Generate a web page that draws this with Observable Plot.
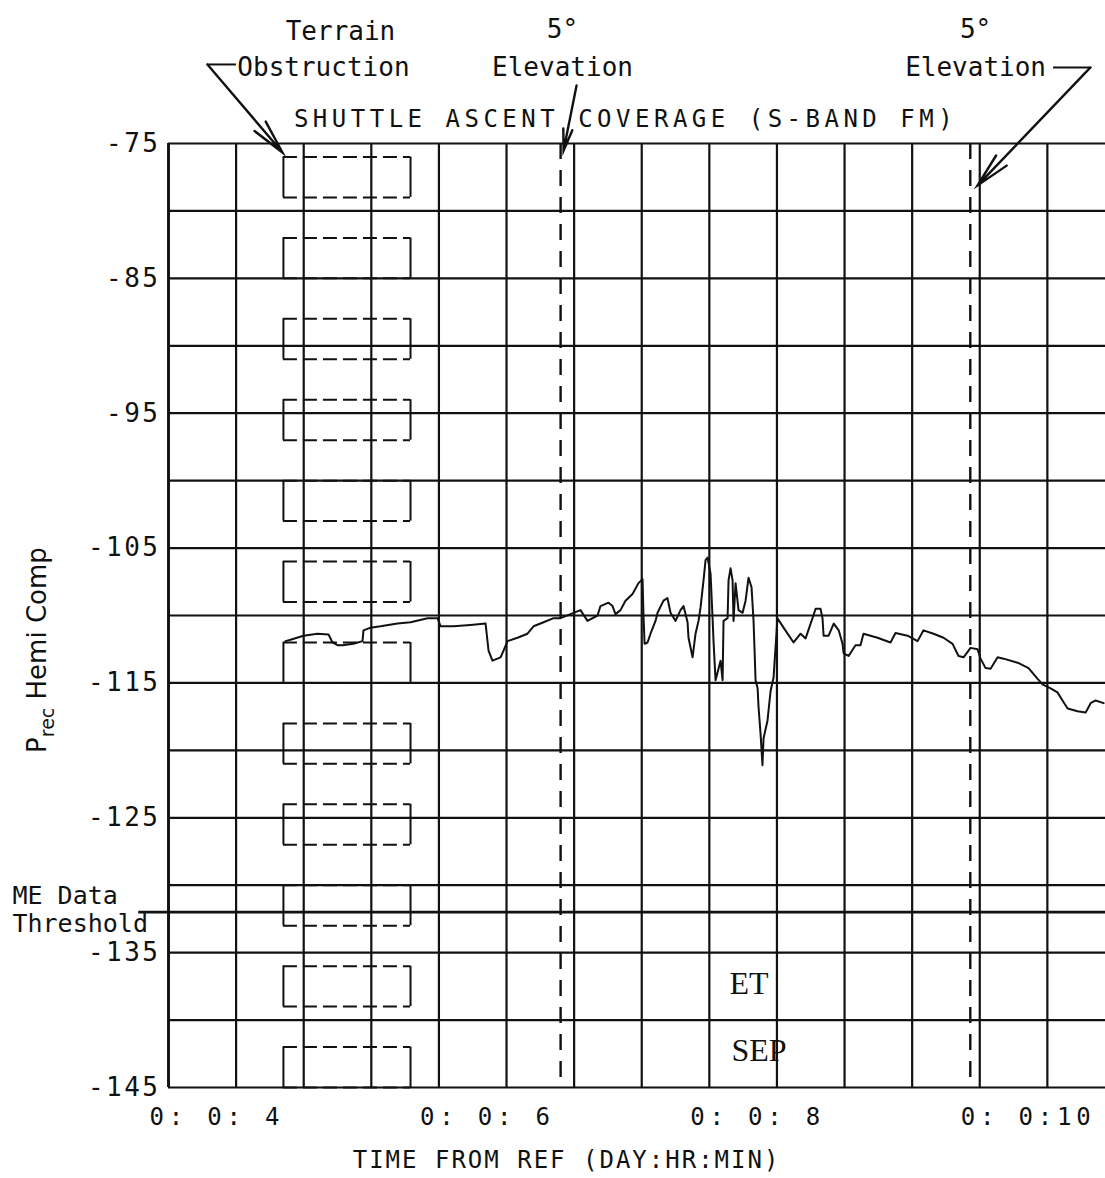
<!DOCTYPE html>
<html>
<head>
<meta charset="utf-8">
<script src="https://cdn.jsdelivr.net/npm/d3@7"></script>
<script src="https://cdn.jsdelivr.net/npm/@observablehq/plot@0.6"></script>
<style>
  html, body { margin: 0; padding: 0; background: #fff; overflow: hidden; }
  #chart svg { display: block; }
</style>
</head>
<body>
<div id="chart"></div>
<script>
// ---- axis ticks & grid ----
const xTicks = [4, 6, 8, 10];
const xTickLabels = ["0: 0: 4", "0: 0: 6", "0: 0: 8", "0: 0:10"];
const yTicks = [-75, -85, -95, -105, -115, -125, -135, -145];
const xGrid = [4, 4.5, 5, 5.5, 6, 6.5, 7, 7.5, 8, 8.5, 9, 9.5, 10, 10.5];
const yGrid = [-75, -80, -85, -90, -95, -100, -105, -110, -115, -120, -125, -130, -135, -140, -145];

// ---- received power trace (minutes from ref, dB) ----
const signalMin = [
  4.865, 4.902, 4.999, 5.102, 5.183, 5.213, 5.250, 5.287, 5.368, 5.435, 5.442, 5.494, 5.568, 5.694, 5.790, 5.916, 5.990, 6.012, 6.108, 6.234, 6.345, 6.367, 6.396, 6.456, 6.478, 6.507, 6.581, 6.655, 6.700, 6.774, 6.848, 6.900,
  6.973, 7.047, 7.099, 7.173, 7.195, 7.254, 7.284, 7.306, 7.343, 7.380, 7.432, 7.476, 7.506, 7.513, 7.521, 7.543, 7.565, 7.602, 7.617, 7.661, 7.690, 7.713, 7.750, 7.787, 7.809, 7.839, 7.846, 7.876, 7.898, 7.920, 7.935, 7.957, 7.972, 7.987, 8.009, 8.024, 8.031, 8.046, 8.083, 8.098, 8.105, 8.135, 8.142, 8.157, 8.172, 8.179, 8.194, 8.216, 8.246, 8.268, 8.290, 8.312, 8.327, 8.342, 8.357, 8.364, 8.379, 8.393, 8.401, 8.430, 8.453, 8.475, 8.504,
  8.549, 8.623, 8.675, 8.712, 8.763, 8.786, 8.822, 8.837, 8.845, 8.882, 8.920, 8.957, 8.985, 8.993, 9.030, 9.081, 9.118, 9.140, 9.244, 9.340, 9.377, 9.466, 9.540, 9.584, 9.658, 9.732, 9.799, 9.843, 9.880, 9.932, 9.984, 10.006, 10.043, 10.080, 10.132, 10.176, 10.280, 10.361, 10.428, 10.464, 10.524, 10.575, 10.612, 10.650, 10.723, 10.783, 10.820, 10.857, 10.916
];
const signalDb = [
  -111.9, -111.8, -111.5, -111.35, -111.4, -112.0, -112.2, -112.2, -112.1, -111.9, -111.1, -110.9, -110.8, -110.6, -110.5, -110.2, -110.2, -110.8, -110.8, -110.7, -110.6, -112.6, -113.35, -113.1, -112.6, -111.9, -111.65, -111.35, -110.8, -110.5, -110.2, -110.2,
  -109.9, -109.6, -110.4, -110.0, -109.3, -109.05, -109.3, -109.9, -109.6, -108.9, -108.4, -107.6, -107.3, -110.0, -112.1, -112.0, -111.35, -110.4, -109.8, -108.9, -108.7, -109.8, -110.4, -109.6, -109.3, -110.5, -111.65, -113.1, -111.35, -110.4, -109.4, -107.4, -105.9, -105.7, -106.9, -110.2, -111.9, -114.8, -113.35, -114.8, -110.4, -110.2, -107.4, -106.5, -107.4, -110.4, -107.6, -109.6, -109.8, -108.9, -107.2, -107.9, -110.4, -114.8, -115.4, -116.8, -118.8, -121.1, -119.1, -117.8, -115.6, -114.6, -110.2,
  -110.9, -112.0, -111.35, -111.7, -110.2, -109.5, -109.5, -110.2, -111.5, -111.5, -110.6, -111.1, -112.1, -112.8, -113.0, -112.2, -112.2, -111.35, -111.65, -112.0, -111.3, -111.5, -111.9, -111.1, -111.35, -111.65, -112.1, -113.0, -113.1, -112.4, -112.5, -113.2, -113.9, -113.95, -113.1, -113.2, -113.5, -113.9, -114.7, -115.1, -115.4, -115.7, -116.3, -116.9, -117.1, -117.2, -116.5, -116.3, -116.5
];

// ---- terrain obstruction markers (dB top / bottom), time span (min) ----
const terrainTop = [-76, -82, -88, -94, -100, -106, -112, -118, -124, -130, -136, -142];
const terrainBottom = [-79, -85, -91, -97, -103, -109, -115, -121, -127, -133, -139, -145];
const terrainSpan = [4.85, 5.79];

// ---- 5 degree elevation times (min) and ME data threshold (dB) ----
const elevation5 = [6.90, 9.93];
const thresholdDb = [-132];
const thresholdSpan = [3.78, 10.93];

// ---- annotation texts (centered) ----
const annoText = ["Terrain", "Obstruction", "5°", "Elevation", "5°", "Elevation"];
const annoX = [5.272, 5.146, 6.914, 6.914, 9.969, 9.969];
const annoY = [-67.29, -69.96, -67.21, -70.03, -67.21, -70.03];
const thresholdText = ["ME Data", "Threshold"];
const thresholdTextX = [2.846, 2.846];
const thresholdTextY = [-131.4, -133.5];
const eventText = ["ET", "SEP"];
const eventX = [8.149, 8.164];
const eventY = [-138.1, -143.0];

// arrows: from (x1,y1) to (x2,y2)
const arrowX1 = [4.288, 7.018, 10.819];
const arrowY1 = [-69.14, -70.70, -69.36];
const arrowX2 = [4.843, 6.922, 9.984];
const arrowY2 = [-75.67, -75.52, -78.11];
// leader stubs beside text
const stubX1 = [4.288, 10.546];
const stubX2 = [4.503, 10.819];
const stubY = [-69.14, -69.36];

const title = "SHUTTLE ASCENT COVERAGE (S-BAND FM)";
const xTitle = "TIME FROM REF (DAY:HR:MIN)";

// ---- build tables ----
const signal = signalMin.map((t, i) => ({t, v: signalDb[i]}));
const boxes = terrainTop.map((top, i) => ({top, bottom: terrainBottom[i]}));
const annos = annoText.map((s, i) => ({s, x: annoX[i], y: annoY[i]}));
const thr = thresholdText.map((s, i) => ({s, x: thresholdTextX[i], y: thresholdTextY[i]}));
const ev = eventText.map((s, i) => ({s, x: eventX[i], y: eventY[i]}));
const arrows = arrowX1.map((x1, i) => ({x1, y1: arrowY1[i], x2: arrowX2[i], y2: arrowY2[i]}));
const stubs = stubX1.map((x1, i) => ({x1, x2: stubX2[i], y: stubY[i]}));

const mono = "DejaVu Sans Mono";
const ink = "#111";

const chart = Plot.plot({
  width: 1105,
  height: 1178,
  marginLeft: 168,
  marginRight: 0,
  marginTop: 143,
  marginBottom: 91,
  style: {background: "#fff", color: ink},
  x: {domain: [4, 10.93]},
  y: {domain: [-145, -75]},
  marks: [
    Plot.ruleY(yGrid, {stroke: ink, strokeWidth: 2.2}),
    Plot.ruleX(xGrid, {stroke: ink, strokeWidth: 2.2}),
    Plot.ruleX([4], {stroke: ink, strokeWidth: 2.8}),
    // terrain obstruction boxes
    Plot.ruleX(boxes, {x: terrainSpan[0], y1: "bottom", y2: "top", stroke: ink, strokeWidth: 2}),
    Plot.ruleX(boxes, {x: terrainSpan[1], y1: "bottom", y2: "top", stroke: ink, strokeWidth: 2}),
    Plot.ruleY(boxes, {y: "top", x1: terrainSpan[0], x2: terrainSpan[1], stroke: ink, strokeWidth: 2, strokeDasharray: "14,6"}),
    Plot.ruleY(boxes, {y: "bottom", x1: terrainSpan[0], x2: terrainSpan[1], stroke: ink, strokeWidth: 2, strokeDasharray: "14,6"}),
    // 5 deg elevation
    Plot.ruleX(elevation5, {stroke: ink, strokeWidth: 2.4, strokeDasharray: "16,11"}),
    // threshold
    Plot.ruleY(thresholdDb, {x1: thresholdSpan[0], x2: thresholdSpan[1], stroke: ink, strokeWidth: 2.8}),
    // trace
    Plot.line(signal, {x: "t", y: "v", stroke: ink, strokeWidth: 2}),
    // annotations
    Plot.arrow(arrows, {x1: "x1", y1: "y1", x2: "x2", y2: "y2", stroke: ink, strokeWidth: 2.4, headLength: 22, headAngle: 24}),
    Plot.ruleY(stubs, {y: "y", x1: "x1", x2: "x2", stroke: ink, strokeWidth: 2}),
    Plot.text(annos, {x: "x", y: "y", text: "s", lineAnchor: "bottom", fontFamily: mono, fontSize: 26, fill: ink}),
    Plot.text(thr, {x: "x", y: "y", text: "s", textAnchor: "start", lineAnchor: "bottom", fontFamily: mono, fontSize: 25, fill: ink}),
    Plot.text(ev, {x: "x", y: "y", text: "s", textAnchor: "start", lineAnchor: "bottom", fontFamily: "Liberation Serif", fontSize: 32, fill: ink}),
    Plot.text([title], {x: 7.38, y: -73.81, text: d => d, lineAnchor: "bottom", fontFamily: mono, fontSize: 24, fill: ink}),
    Plot.text([xTitle], {x: 6.944, y: -151.0, text: d => d, lineAnchor: "bottom", fontFamily: mono, fontSize: 24, fill: ink}),
    // axes
    Plot.axisY({ticks: yTicks, tickSize: 0, tickPadding: 8, tickFormat: d => String(d), fontSize: 26, fontFamily: mono, label: null}),
    Plot.axisX({ticks: xTicks, tickSize: 0, tickPadding: 20, textAnchor: "start", dx: -19, tickFormat: d => xTickLabels[xTicks.indexOf(d)], fontSize: 24, fontFamily: mono, label: null})
  ]
});

const svg = d3.select(chart);
svg.selectAll("text").filter(function () { return this.textContent === title; }).style("letter-spacing", "4.5px");
svg.selectAll("text").filter(function () { return this.textContent === xTitle; }).style("letter-spacing", "2px");
svg.selectAll('g[aria-label="x-axis tick label"] text').style("letter-spacing", "4.8px");
svg.selectAll('g[aria-label="y-axis tick label"] text').style("letter-spacing", "2.5px");
svg.selectAll('g[aria-label="arrow"] path').attr("stroke-linejoin", "miter").attr("stroke-miterlimit", 20);

// y axis title with subscript
const yScale = chart.scale("y");
const labY = yScale.apply(-112.6);
const lab = svg.append("text")
  .attr("transform", `translate(46,${labY}) rotate(-90)`)
  .attr("text-anchor", "middle")
  .attr("font-family", "DejaVu Sans")
  .attr("font-size", 26)
  .attr("fill", ink);
lab.append("tspan").text("P");
lab.append("tspan").attr("font-size", 19).attr("dy", 8).text("rec");
lab.append("tspan").attr("dy", -8).text(" Hemi Comp");

document.getElementById("chart").appendChild(chart);
</script>
</body>
</html>
